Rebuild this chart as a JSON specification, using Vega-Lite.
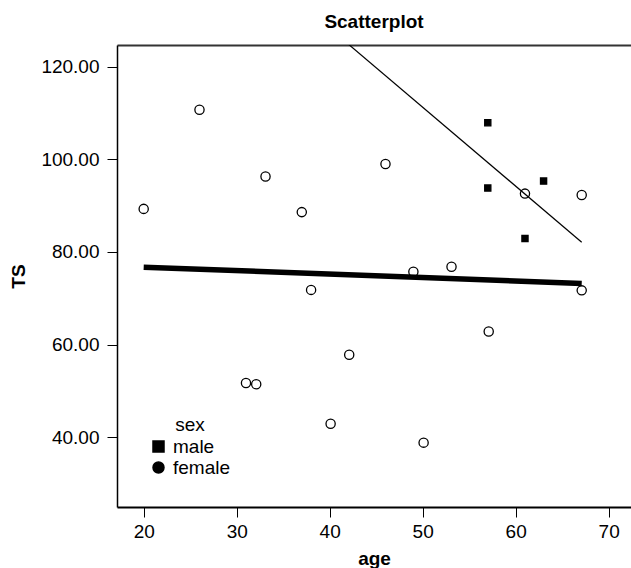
{
  "$schema": "https://vega.github.io/schema/vega-lite/v6.json",
  "autosize": "none",
  "width": 514,
  "height": 462,
  "padding": {"left": 117, "top": 45, "right": 0, "bottom": 61},
  "background": "white",
  "config": {
    "font": "Liberation Sans",
    "view": {"stroke": null},
    "axis": {"labelFont": "Liberation Sans", "titleFont": "Liberation Sans", "labelColor": "black", "titleColor": "black", "domainColor": "black", "tickColor": "black", "grid": false}
  },
  "title": {"text": "Scatterplot", "fontSize": 19, "fontWeight": "bold", "font": "Liberation Sans", "color": "black", "anchor": "middle", "offset": 13},
  "datasets": {
    "points": [
      {"sex": "female", "age": 20.0, "TS": 89.3},
      {"sex": "female", "age": 26.0, "TS": 110.7},
      {"sex": "female", "age": 31.0, "TS": 51.7},
      {"sex": "female", "age": 32.1, "TS": 51.4},
      {"sex": "female", "age": 33.1, "TS": 96.3},
      {"sex": "female", "age": 37.0, "TS": 88.6},
      {"sex": "female", "age": 38.0, "TS": 71.8},
      {"sex": "female", "age": 40.1, "TS": 42.9},
      {"sex": "female", "age": 42.1, "TS": 57.8},
      {"sex": "female", "age": 46.0, "TS": 99.0},
      {"sex": "female", "age": 49.0, "TS": 75.7},
      {"sex": "female", "age": 50.1, "TS": 38.8},
      {"sex": "female", "age": 53.1, "TS": 76.8},
      {"sex": "female", "age": 57.1, "TS": 62.8},
      {"sex": "female", "age": 61.0, "TS": 92.6},
      {"sex": "female", "age": 67.1, "TS": 92.3},
      {"sex": "female", "age": 67.1, "TS": 71.7},
      {"sex": "male", "age": 57.0, "TS": 107.9},
      {"sex": "male", "age": 57.0, "TS": 93.8},
      {"sex": "male", "age": 61.0, "TS": 82.9},
      {"sex": "male", "age": 63.0, "TS": 95.3}
    ],
    "lines": [
      {"fit": "female", "age": 20.0, "TS": 76.7},
      {"fit": "female", "age": 67.1, "TS": 73.2},
      {"fit": "male", "age": 41.0, "TS": 126.6},
      {"fit": "male", "age": 67.1, "TS": 82.1}
    ]
  },
  "layer": [
    {
      "data": {"name": "points"},
      "mark": {"type": "point", "stroke": "black", "strokeWidth": 1.3, "opacity": 1},
      "encoding": {
        "x": {"field": "age", "type": "quantitative", "scale": {"domain": [17.13, 72.4], "nice": false, "zero": false},
          "axis": {"title": "age", "values": [20, 30, 40, 50, 60, 70], "labelFontSize": 19, "titleFontSize": 19, "titleFontWeight": "bold", "tickSize": 10, "tickWidth": 1, "domainWidth": 2, "labelPadding": 5, "titlePadding": 8}},
        "y": {"field": "TS", "type": "quantitative", "scale": {"domain": [24.9, 124.7], "nice": false, "zero": false},
          "axis": {"title": "TS", "values": [40, 60, 80, 100, 120], "format": ".2f", "labelFontSize": 19, "titleFontSize": 19, "titleFontWeight": "bold", "tickSize": 10, "tickWidth": 1, "domainWidth": 1.5, "labelPadding": 8, "titlePadding": 12}},
        "shape": {"field": "sex", "type": "nominal", "scale": {"domain": ["male", "female"], "range": ["square", "circle"]},
          "legend": {"title": "sex", "titleAnchor": "middle", "orient": "none", "legendX": 32, "legendY": 371, "padding": 0, "titleFontSize": 19, "titleFontWeight": "normal", "titleColor": "black", "labelFontSize": 19, "labelColor": "black", "symbolSize": 121, "labelOffset": 5, "rowPadding": 1, "titlePadding": 2}},
        "fill": {"field": "sex", "type": "nominal", "scale": {"domain": ["female", "male"], "range": ["transparent", "black"]}, "legend": null},
        "size": {"field": "sex", "type": "nominal", "scale": {"domain": ["female", "male"], "range": [85, 38]}, "legend": null}
      }
    },
    {
      "data": {"name": "lines"},
      "mark": {"type": "line", "color": "black", "clip": true, "strokeCap": "butt"},
      "encoding": {
        "x": {"field": "age", "type": "quantitative", "axis": {"orient": "top", "labels": false, "ticks": false, "title": null, "domain": true, "domainWidth": 2, "domainColor": "#333"}},
        "y": {"field": "TS", "type": "quantitative"},
        "detail": {"field": "fit"},
        "strokeWidth": {"field": "fit", "type": "nominal", "scale": {"domain": ["female", "male"], "range": [5.5, 1.2]}, "legend": null}
      }
    }
  ],
  "resolve": {"axis": {"x": "independent"}}
}
